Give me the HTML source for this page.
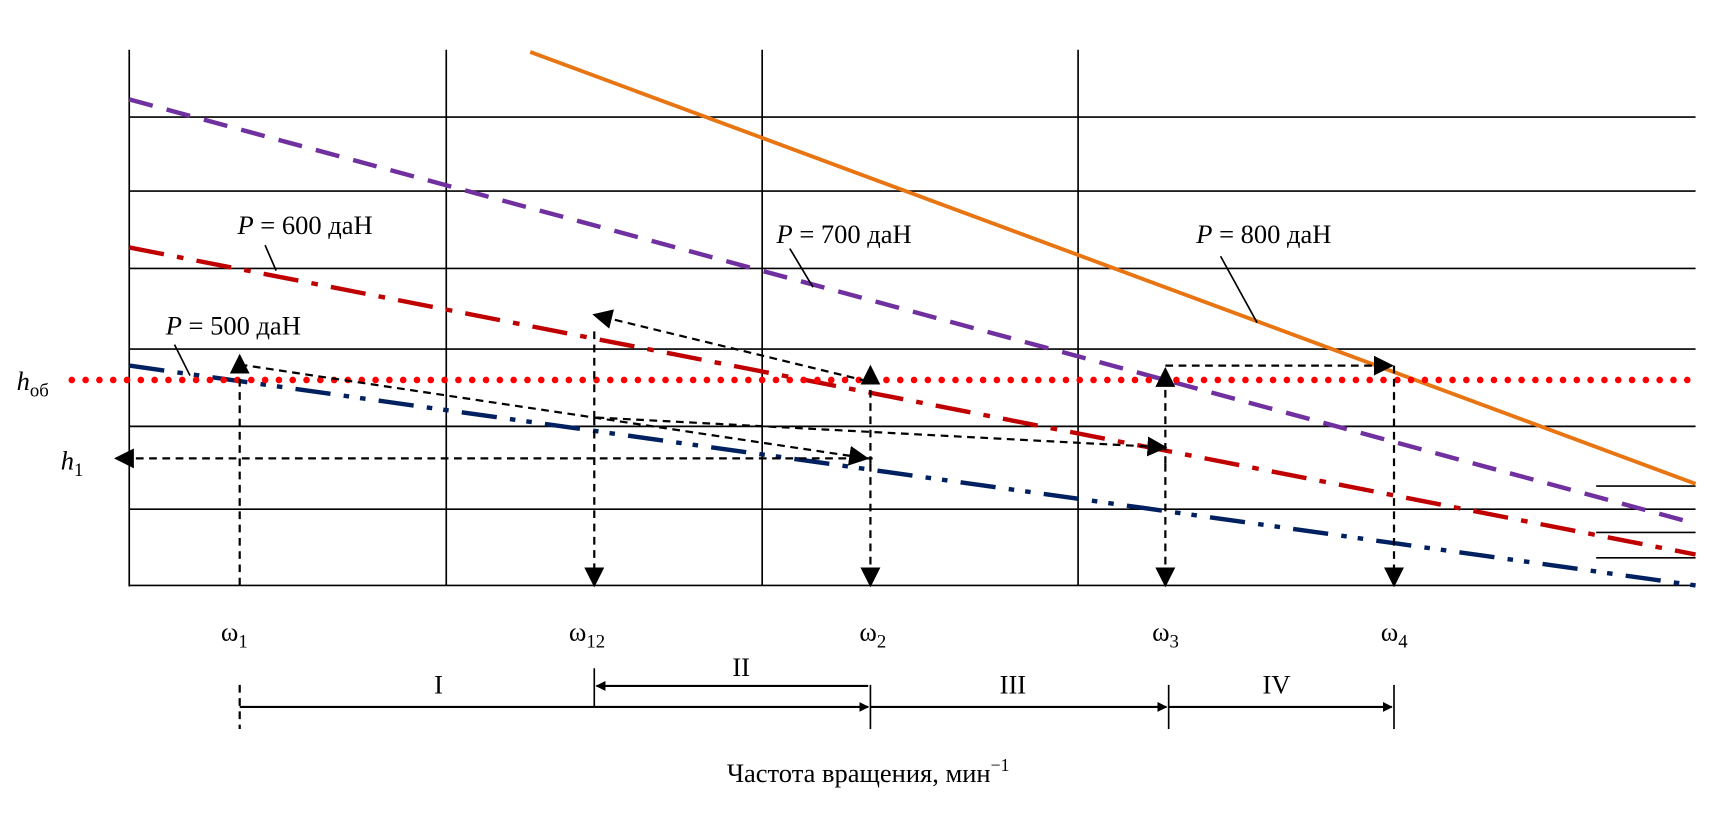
<!DOCTYPE html><html><head><meta charset="utf-8"><style>body{margin:0;background:#fff}svg text{font-family:"Liberation Serif",serif;font-size:24px}</style></head><body>
<svg width="1732" height="818" viewBox="0 0 1732 818" xmlns="http://www.w3.org/2000/svg">
<defs><marker id="a" viewBox="0 0 10 10" refX="9" refY="5" markerWidth="9" markerHeight="9" markerUnits="userSpaceOnUse" orient="auto"><path d="M0,0L10,5L0,10z"/></marker>
<marker id="b" viewBox="0 0 10 10" refX="9" refY="5" markerWidth="18" markerHeight="18" markerUnits="userSpaceOnUse" orient="auto"><path d="M0,0L10,5L0,10z"/></marker></defs>
<g transform="scale(1.1046)">
<g stroke="#000" stroke-width="1.5">
<line x1="117" y1="45" x2="117" y2="531"/><line x1="117" y1="530" x2="1535" y2="530"/>
<line x1="404" y1="45" x2="404" y2="530"/><line x1="690" y1="45" x2="690" y2="530"/><line x1="976" y1="45" x2="976" y2="530"/>
<line x1="117" y1="106" x2="1535" y2="106"/><line x1="117" y1="173" x2="1535" y2="173"/><line x1="117" y1="243" x2="1535" y2="243"/><line x1="117" y1="316" x2="1535" y2="316"/><line x1="117" y1="386" x2="1535" y2="386"/><line x1="117" y1="461" x2="1535" y2="461"/>
<line x1="1445" y1="440" x2="1535" y2="440"/><line x1="1445" y1="482" x2="1535" y2="482"/><line x1="1445" y1="505" x2="1535" y2="505"/>
</g>
<line x1="480" y1="47" x2="1535" y2="438" stroke="#e87511" stroke-width="3.5"/>
<line x1="117" y1="90" x2="1535" y2="474" stroke="#7030a0" stroke-width="4" stroke-dasharray="22,13"/>
<line x1="117" y1="224" x2="1535" y2="502" stroke="#c00000" stroke-width="4" stroke-dasharray="32,12,6,12"/>
<line x1="117" y1="331" x2="1535" y2="530" stroke="#002060" stroke-width="4" stroke-dasharray="32,12,5,10,5,12"/>
<line x1="65" y1="344" x2="1535" y2="344" stroke="#ff0000" stroke-width="6" stroke-linecap="round" stroke-dasharray="0,12.5"/>
<g stroke="#000" stroke-width="2" stroke-dasharray="7,5" fill="none">
<line x1="790" y1="415" x2="105" y2="415" marker-end="url(#b)"/>
<line x1="217" y1="530" x2="217" y2="322" marker-end="url(#b)"/>
<line x1="217" y1="330" x2="785" y2="415" marker-end="url(#b)"/>
<line x1="538" y1="378" x2="538" y2="530" marker-end="url(#b)"/>
<line x1="538" y1="300" x2="538" y2="378"/>
<line x1="785" y1="345" x2="538" y2="285" marker-end="url(#b)"/>
<line x1="540" y1="378" x2="1055" y2="405" marker-end="url(#b)"/>
<line x1="788" y1="420" x2="788" y2="332" marker-end="url(#b)"/>
<line x1="788" y1="420" x2="788" y2="530" marker-end="url(#b)"/>
<line x1="1055" y1="420" x2="1055" y2="334" marker-end="url(#b)"/>
<line x1="1055" y1="420" x2="1055" y2="530" marker-end="url(#b)"/>
<line x1="1055" y1="331" x2="1260" y2="331" marker-end="url(#b)"/>
<line x1="1262" y1="331" x2="1262" y2="530" marker-end="url(#b)"/>
<line x1="217" y1="620" x2="217" y2="660"/>
</g>
<g stroke="#000" stroke-width="1.5">
<line x1="240" y1="222" x2="250" y2="245"/><line x1="715" y1="225" x2="736" y2="260"/><line x1="1105" y1="232" x2="1138" y2="292"/><line x1="158" y1="312" x2="172" y2="340"/>
<line x1="538" y1="605" x2="538" y2="640"/><line x1="788" y1="620" x2="788" y2="660"/><line x1="1058" y1="620" x2="1058" y2="660"/><line x1="1262" y1="620" x2="1262" y2="660"/>
<line x1="217" y1="640" x2="786" y2="640" marker-end="url(#a)" stroke-width="2"/>
<line x1="786" y1="621" x2="540" y2="621" marker-end="url(#a)" stroke-width="2"/>
<line x1="788" y1="640" x2="1056" y2="640" marker-end="url(#a)" stroke-width="2"/>
<line x1="1058" y1="640" x2="1260" y2="640" marker-end="url(#a)" stroke-width="2"/>
</g>
<text x="215" y="212"><tspan font-style="italic">P</tspan> = 600 даН</text>
<text x="703" y="220"><tspan font-style="italic">P</tspan> = 700 даН</text>
<text x="1083" y="220"><tspan font-style="italic">P</tspan> = 800 даН</text>
<text x="150" y="303"><tspan font-style="italic">P</tspan> = 500 даН</text>
<text x="15" y="353"><tspan font-style="italic">h</tspan><tspan font-size="17" dy="6">об</tspan></text>
<text x="55" y="425"><tspan font-style="italic">h</tspan><tspan font-size="17" dy="6">1</tspan></text>
<text x="200" y="580">ω<tspan font-size="17" dy="6">1</tspan></text>
<text x="515" y="580">ω<tspan font-size="17" dy="6">12</tspan></text>
<text x="778" y="580">ω<tspan font-size="17" dy="6">2</tspan></text>
<text x="1043" y="580">ω<tspan font-size="17" dy="6">3</tspan></text>
<text x="1250" y="580">ω<tspan font-size="17" dy="6">4</tspan></text>
<text x="393" y="628">I</text><text x="663" y="612">II</text><text x="905" y="628">III</text><text x="1143" y="628">IV</text>
<text x="658" y="708">Частота вращения, мин<tspan font-size="16" dy="-10">−1</tspan></text>
</g>
</svg></body></html>
